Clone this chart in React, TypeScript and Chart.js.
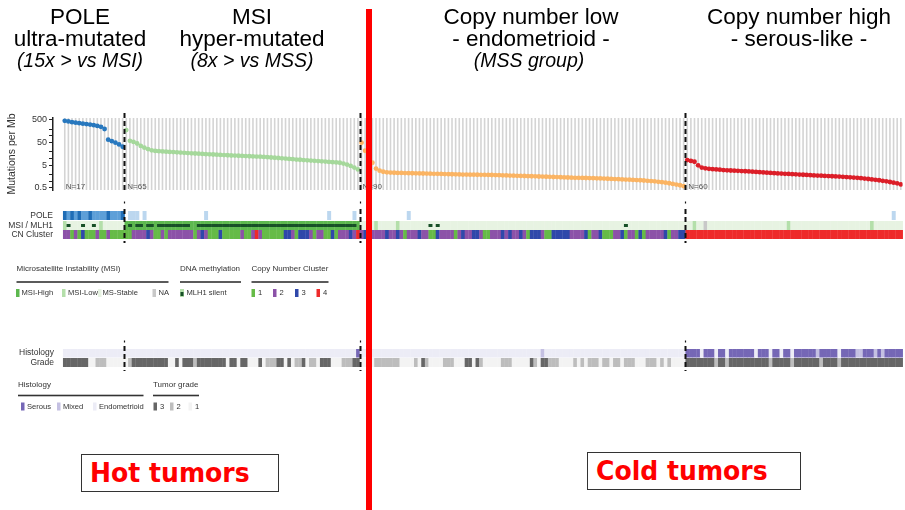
import React, { useEffect, useRef } from "react";
import { Chart, registerables } from "chart.js";
Chart.register(...registerables);

// ---------------- DATA ----------------
const GROUP_N_LABELS = ["N=17", "N=65", "N=90", "N=60"];
const GROUP_COLORS = ["#2878be", "#a5d89b", "#fbb463", "#dc1e28"];

// Mutations per Mb, each group sorted as in the figure
const MUT_POLE = [460, 430, 400, 380, 360, 345, 330, 315, 295, 275, 250, 200, 68, 58, 50, 42, 33];
const MUT_MSI = [
  180, 60, 54, 46, 36, 30, 26, 23, 21.5, 21, 20.5, 20, 19.6, 19.2, 18.8,
  18.2, 17.8, 17.4, 17, 16.6, 16.3, 16, 15.6, 15.3, 15, 14.7, 14.4, 14.1, 13.9, 13.6, 13.4, 13.2, 13, 12.8, 12.6, 12.4, 12.2, 12,
  11.7, 11.4, 11.1, 10.8, 10.5, 10.2, 9.9, 9.6, 9.3, 9.0, 8.8, 8.5, 8.3, 8.1, 7.9, 7.7, 7.5, 7.3, 7.1, 6.9, 6.7, 6.5,
  6.0, 5.4, 4.7, 4.0, 3.3,
];
const MUT_CNL = [
  50, 22, 10, 6.5, 3.6, 2.9, 2.6, 2.45, 2.4, 2.35,
  2.32, 2.3, 2.28, 2.26, 2.24, 2.22, 2.2, 2.18, 2.16, 2.14, 2.12, 2.1, 2.08, 2.06, 2.04, 2.02, 2.0, 1.98, 1.96, 1.95, 1.94, 1.93, 1.92, 1.91, 1.9, 1.88, 1.87, 1.85,
  1.83, 1.81, 1.79, 1.77, 1.75, 1.73, 1.71, 1.69, 1.67, 1.65, 1.63, 1.61, 1.59, 1.57, 1.55, 1.53, 1.51, 1.49, 1.47, 1.45, 1.43, 1.41, 1.4, 1.39, 1.38, 1.37, 1.35, 1.34, 1.32,
  1.3, 1.28, 1.26, 1.24, 1.22, 1.2, 1.18, 1.16, 1.14, 1.12, 1.1, 1.07, 1.04, 1.01, 0.98,
  0.94, 0.9, 0.86, 0.81, 0.76, 0.71, 0.66, 0.6,
];
const MUT_CNH = [
  8.5, 7.8, 7.2, 5.0, 4.0, 3.7, 3.5, 3.4, 3.3, 3.2, 3.1, 3.0,
  2.95, 2.9, 2.85, 2.8, 2.74, 2.68, 2.62, 2.56, 2.5, 2.44, 2.38, 2.32, 2.26,
  2.2, 2.16, 2.12, 2.08, 2.04, 2.0, 1.96, 1.92, 1.88, 1.84, 1.8, 1.77, 1.74, 1.71, 1.68, 1.65, 1.62, 1.59, 1.56,
  1.52, 1.48, 1.44, 1.4, 1.35, 1.3, 1.25, 1.2, 1.15, 1.1,
  1.04, 0.98, 0.92, 0.86, 0.8, 0.72,
];
const MUT_GROUPS = [MUT_POLE, MUT_MSI, MUT_CNL, MUT_CNH];

const Y_TICKS = [0.5, 1, 2, 5, 10, 20, 50, 100, 200, 500];
const Y_TICK_LABELS = [0.5, 5, 50, 500];

// Per-sample annotation tracks (one string per group, one character per sample)
// POLE: D dark (mutant), M medium, L light, . none
const TRACK_POLE = [
  "DMDMDMMDMMMMDMMMD",
  ".LLL.L" + ".".repeat(16) + "L" + ".".repeat(33) + "L" + ".".repeat(6) + "L.",
  ".".repeat(13) + "L" + ".".repeat(76),
  ".".repeat(57) + "L..",
];
// MSI: H high, L low, S stable, N not available
const TRACK_MSI = [
  "LSSSSSSSSSLSSSSSS",
  "H".repeat(65),
  "SSSSLSSSSSL" + "S".repeat(79),
  "SSLSSNSSSS" + "S".repeat(18) + "L" + "S".repeat(22) + "L" + "S".repeat(8),
];
// MLH1 silencing: 1 silent
const TRACK_MLH1 = [
  "01000100100000000",
  "010110110" + "111111111" + "00" + "1".repeat(44) + "0",
  "0".repeat(19) + "101" + "0".repeat(51) + "1" + "0".repeat(16),
  "0".repeat(60),
];
// Copy number cluster 1-4
const TRACK_CN = [
  "22121311121121111",
  "1122223211" + "2122222221" + "2321113111" + "1121124211" + "1111332133" + "3212211312" + "22324",
  "2322222322" + "3212223221" + "1322221232" + "2332112223" + "2322321333" + "2113333322" + "2231223111" + "2231221312" + "2222312233",
  "4".repeat(60),
];
// Histology: S serous, M mixed, E endometrioid
const TRACK_HIST = [
  "E".repeat(17),
  "E".repeat(64) + "S",
  "E".repeat(50) + "M" + "E".repeat(39),
  "SSSSESSSES" + "SESSSSSSSE" + "SSSESSESSE" + "SSSSSSMSSS" + "SSESSSSMMS" + "SSMSMSSSSS",
];
// Tumor grade 1-3
const TRACK_GRADE = [
  "33333331122211111",
  "12" + "3333333333" + "11" + "3" + "1" + "333" + "2" + "33333333" + "1" + "33" + "1" + "33" + "111" + "3" + "1" + "222" + "33" + "1" + "3" + "1" + "22" + "3" + "1" + "22" + "1" + "333" + "111" + "222" + "33",
  "1111222222" + "2111121321" + "1112221113" + "3132111112" + "2211111321" + "3322211112" + "1212221221" + "2212221112" + "2212121111",
  "3333333323" + "3233333333" + "3332333332" + "3333333233" + "3323333333" + "3333333333",
];

// ---------------- STYLE ----------------
const FONT = "'Liberation Sans', Arial, Helvetica, sans-serif";
const POLE_COLORS: Record<string, string> = { D: "#1f6db6", M: "#5d9fd8", L: "#bcd7ef" };
const MSI_COLORS: Record<string, string> = { H: "#5db84f", L: "#b4dfaa", S: "#e7f3e2", N: "#c8c8c8" };
const MLH1_COLOR = "#174f27";
const CN_COLORS: Record<string, string> = { "1": "#66bb47", "2": "#8c52a8", "3": "#2f48aa", "4": "#ee2a2a" };
const HIST_COLORS: Record<string, string> = { S: "#7567b6", M: "#c4c0e2", E: "#ececf6" };
const GRADE_COLORS: Record<string, string> = { "3": "#666666", "2": "#bdbdbd", "1": "#f3f3f3" };

const GROUP_SIZES = MUT_GROUPS.map((g) => g.length);
const GROUP_STARTS = GROUP_SIZES.map((_, i) => GROUP_SIZES.slice(0, i).reduce((a, b) => a + b, 0));
const N = GROUP_SIZES.reduce((a, b) => a + b, 0);

function joinTrack(parts: string[], name: string): string[] {
  const s = parts.join("");
  parts.forEach((p, g) => {
    if (p.length !== GROUP_SIZES[g]) console.error(`track ${name} group ${g} length ${p.length} != ${GROUP_SIZES[g]}`);
  });
  return s.split("");
}

const tracksPlugin = {
  id: "tcgaTracks",
  beforeDatasetsDraw(chart: any) {
    const { ctx, chartArea, scales } = chart;
    const xs = scales.x;
    ctx.save();
    ctx.fillStyle = "#d4d4d4";
    for (let i = 0; i < N; i++) {
      const x = xs.getPixelForValue(i);
      ctx.fillRect(x - 0.8, chartArea.top, 1.6, chartArea.bottom - chartArea.top);
    }
    ctx.restore();
  },
  afterDatasetsDraw(chart: any) {
    const { ctx, scales } = chart;
    const xs = scales.x;
    const px = (v: number) => xs.getPixelForValue(v);
    ctx.save();

    const text = (s: string, x: number, y: number, size: number, align: CanvasTextAlign = "left", color = "#333") => {
      ctx.font = `${size}px ${FONT}`;
      ctx.textAlign = align;
      ctx.textBaseline = "middle";
      ctx.fillStyle = color;
      ctx.fillText(s, x, y);
    };
    const cell = (i: number, y0: number, y1: number, color: string) => {
      const a = px(i - 0.5);
      const b = px(i + 0.5);
      ctx.fillStyle = color;
      ctx.fillRect(a, y0, b - a + 0.35, y1 - y0);
    };

    // N labels
    ctx.font = `8px ${FONT}`;
    ctx.textAlign = "left";
    ctx.textBaseline = "alphabetic";
    ctx.fillStyle = "#555";
    GROUP_N_LABELS.forEach((t, g) => ctx.fillText(t, px(GROUP_STARTS[g]) + 1, 189));

    // tracks
    const pole = joinTrack(TRACK_POLE, "pole");
    const msi = joinTrack(TRACK_MSI, "msi");
    const mlh1 = joinTrack(TRACK_MLH1, "mlh1");
    const cn = joinTrack(TRACK_CN, "cn");
    const hist = joinTrack(TRACK_HIST, "hist");
    const grade = joinTrack(TRACK_GRADE, "grade");
    for (let i = 0; i < N; i++) {
      if (POLE_COLORS[pole[i]]) cell(i, 211, 220, POLE_COLORS[pole[i]]);
      cell(i, 221, 230, MSI_COLORS[msi[i]]);
      cell(i, 230, 239, CN_COLORS[cn[i]]);
      cell(i, 349, 357.5, HIST_COLORS[hist[i]]);
      cell(i, 358, 367, GRADE_COLORS[grade[i]]);
    }
    for (let i = 0; i < N; i++) {
      if (mlh1[i] === "1") cell(i, 224, 227, MLH1_COLOR);
    }

    // track labels
    text("POLE", 53, 216, 8.5, "right");
    text("MSI / MLH1", 53, 225.5, 8.5, "right");
    text("CN Cluster", 53, 234.5, 8.5, "right");
    text("Histology", 54, 353, 8.5, "right");
    text("Grade", 54, 362.5, 8.5, "right");

    // group boundaries
    ctx.strokeStyle = "#111";
    GROUP_STARTS.slice(1).forEach((s) => {
      const x = Math.round(px(s - 0.5)) + 0.5;
      ctx.lineWidth = 2;
      ctx.setLineDash([5, 3]);
      [[113, 193], [209, 243], [346, 371]].forEach(([a, b]) => {
        ctx.beginPath();
        ctx.moveTo(x, a);
        ctx.lineTo(x, b);
        ctx.stroke();
      });
      ctx.setLineDash([]);
      ctx.lineWidth = 1.2;
      [[201.5, 203.5], [340.5, 342.5]].forEach(([a, b]) => {
        ctx.beginPath();
        ctx.moveTo(x, a);
        ctx.lineTo(x, b);
        ctx.stroke();
      });
    });

    // legends
    const LS = 7.6;
    const underline = (x0: number, x1: number, y: number) => {
      ctx.fillStyle = "#333";
      ctx.fillRect(x0, y - 0.8, x1 - x0, 1.6);
    };
    const sw = (x: number, y: number, color: string) => {
      ctx.fillStyle = color;
      ctx.fillRect(x, y - 4, 3.5, 8);
    };
    text("Microsatellite Instability (MSI)", 16.5, 269, 8);
    text("DNA methylation", 180, 269, 8);
    text("Copy Number Cluster", 251.5, 269, 8);
    underline(16.5, 168.5, 282);
    underline(180, 241, 282);
    underline(251.5, 328.5, 282);
    const msiItems: [string, string, number, number][] = [
      ["MSI-High", MSI_COLORS.H, 16, 21.5],
      ["MSI-Low", MSI_COLORS.L, 62, 68],
      ["MS-Stable", MSI_COLORS.S, 98, 102.5],
      ["NA", MSI_COLORS.N, 152.5, 158.5],
    ];
    msiItems.forEach(([, c, x]) => sw(x, 293, c));
    msiItems.forEach(([l, , , tx]) => text(l, tx, 293, LS));
    ctx.fillStyle = MSI_COLORS.L;
    ctx.fillRect(180, 289, 4, 8);
    ctx.fillStyle = MLH1_COLOR;
    ctx.fillRect(180.5, 292, 3, 4);
    text("MLH1 silent", 186.5, 293, LS);
    ["1", "2", "3", "4"].forEach((k, j) => {
      const x = [251.5, 273, 295, 316.5][j];
      sw(x, 293, CN_COLORS[k]);
      text(k, x + 6.5, 293, LS);
    });

    text("Histology", 18, 385, 8);
    text("Tumor grade", 153, 385, 8);
    underline(18, 143.5, 395.5);
    underline(153, 199, 395.5);
    const histItems: [string, string, number][] = [
      ["Serous", HIST_COLORS.S, 21],
      ["Mixed", HIST_COLORS.M, 57],
      ["Endometrioid", HIST_COLORS.E, 93],
    ];
    histItems.forEach(([, c, x]) => sw(x, 406.5, c));
    histItems.forEach(([l, , x]) => text(l, x + 6, 406.5, LS));
    ["3", "2", "1"].forEach((k, j) => {
      const x = [153.5, 170, 188.5][j];
      sw(x, 406.5, GRADE_COLORS[k]);
      text(k, x + 6.5, 406.5, LS);
    });

    ctx.restore();
  },
  afterDraw(chart: any) {
    const { ctx } = chart;
    ctx.save();
    ctx.fillStyle = "#ff0000";
    ctx.fillRect(366, 9, 6, 501);
    ctx.restore();
  },
};

function HeaderLine(props: { cx: number; top: number; size: number; italic?: boolean; children: string }) {
  return (
    <div
      style={{
        position: "absolute",
        left: props.cx - 120,
        width: 240,
        top: props.top,
        textAlign: "center",
        fontFamily: FONT,
        fontSize: props.size,
        lineHeight: `${props.size}px`,
        fontStyle: props.italic ? "italic" : "normal",
        color: "#000",
        whiteSpace: "nowrap",
      }}
    >
      {props.children}
    </div>
  );
}

function TumorBox(props: { left: number; top: number; width: number; children: string }) {
  return (
    <div
      style={{
        position: "absolute",
        left: props.left,
        top: props.top,
        width: props.width,
        height: 38,
        boxSizing: "border-box",
        border: "1px solid #333",
        background: "#fff",
        paddingLeft: 8,
        whiteSpace: "nowrap",
        overflow: "hidden",
      }}
    >
      <span
        style={{
          display: "inline-block",
          fontFamily: "'DejaVu Sans', Verdana, sans-serif",
          fontWeight: "bold",
          fontSize: 27,
          lineHeight: "36px",
          color: "#ff0000",
          transform: "scaleX(0.93)",
          transformOrigin: "left center",
        }}
      >
        {props.children}
      </span>
    </div>
  );
}

export default function App() {
  const canvasRef = useRef<HTMLCanvasElement | null>(null);

  useEffect(() => {
    if (!canvasRef.current) return;
    const datasets = MUT_GROUPS.map((vals, g) => ({
      label: GROUP_N_LABELS[g],
      data: vals.map((v, k) => ({ x: GROUP_STARTS[g] + k, y: v })),
      backgroundColor: GROUP_COLORS[g],
      borderWidth: 0,
      pointRadius: 2.4,
      pointHoverRadius: 2.4,
      showLine: false,
    }));
    const chart = new Chart(canvasRef.current, {
      type: "scatter",
      data: { datasets },
      options: {
        animation: false,
        responsive: false,
        devicePixelRatio: 1,
        events: [],
        layout: { padding: { top: 118, bottom: 320, left: 0, right: 0 } },
        plugins: { legend: { display: false }, tooltip: { enabled: false } },
        scales: {
          x: { type: "linear", min: -3.25, max: N - 0.5, display: false },
          y: {
            type: "logarithmic",
            min: 0.408,
            max: 612,
            position: "left",
            afterFit: (s: any) => {
              s.width = 53;
            },
            afterBuildTicks: (s: any) => {
              s.ticks = Y_TICKS.map((v) => ({ value: v }));
            },
            border: { display: true, color: "#222", width: 1.5 },
            grid: { display: true, drawOnChartArea: false, drawTicks: true, tickLength: 4, color: "#222" },
            ticks: {
              autoSkip: false,
              padding: 2,
              color: "#333",
              font: { size: 9, family: FONT },
              callback: (v: any) => (Y_TICK_LABELS.includes(Number(v)) ? String(v) : ""),
            },
            title: {
              display: true,
              text: "Mutations per Mb",
              color: "#333",
              font: { size: 10.5, family: FONT },
              padding: { top: 6, bottom: 0 },
            },
          },
        },
      } as any,
      plugins: [tracksPlugin],
    });
    return () => chart.destroy();
  }, []);

  return (
    <div style={{ position: "absolute", left: 0, top: 0, width: 905, height: 510, background: "#fff", overflow: "hidden" }}>
      <canvas ref={canvasRef} width={905} height={510} style={{ position: "absolute", left: 0, top: 0 }} />
      <HeaderLine cx={80} top={6} size={22.5}>POLE</HeaderLine>
      <HeaderLine cx={80} top={27.5} size={22.5}>ultra-mutated</HeaderLine>
      <HeaderLine cx={80} top={51} size={19.5} italic>(15x &gt; vs MSI)</HeaderLine>
      <HeaderLine cx={252} top={6} size={22.5}>MSI</HeaderLine>
      <HeaderLine cx={252} top={27.5} size={22.5}>hyper-mutated</HeaderLine>
      <HeaderLine cx={252} top={51} size={19.5} italic>(8x &gt; vs MSS)</HeaderLine>
      <HeaderLine cx={531} top={6} size={22.5}>Copy number low</HeaderLine>
      <HeaderLine cx={531} top={27.5} size={22.5}>- endometrioid -</HeaderLine>
      <HeaderLine cx={529} top={51} size={19.5} italic>(MSS group)</HeaderLine>
      <HeaderLine cx={799} top={6} size={22.5}>Copy number high</HeaderLine>
      <HeaderLine cx={799} top={27.5} size={22.5}>- serous-like -</HeaderLine>
      <TumorBox left={81} top={454} width={198}>Hot tumors</TumorBox>
      <TumorBox left={587} top={452} width={214}>Cold tumors</TumorBox>
    </div>
  );
}
